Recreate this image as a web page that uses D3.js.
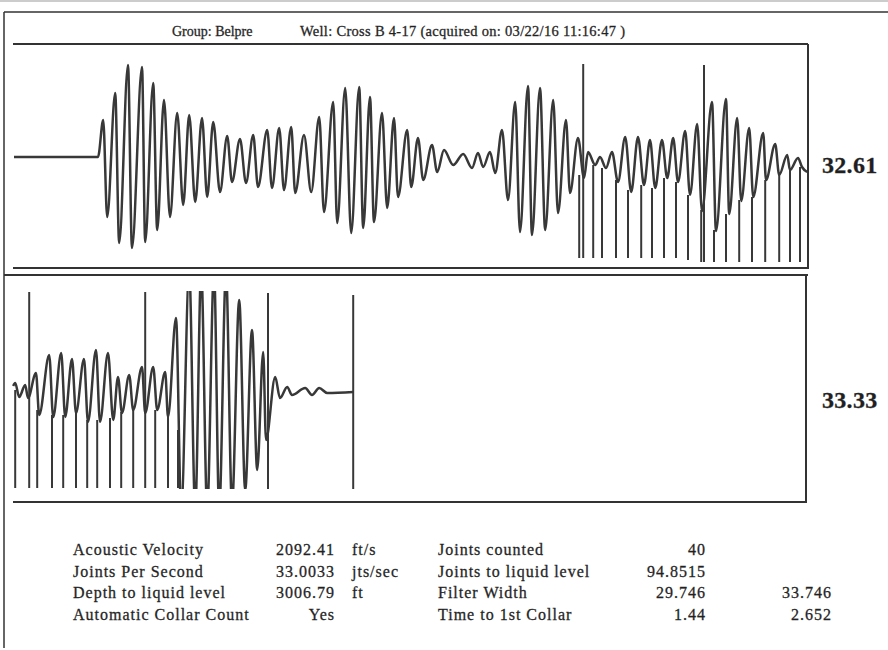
<!DOCTYPE html>
<html>
<head>
<meta charset="utf-8">
<script src="https://cdn.jsdelivr.net/npm/d3@7"></script>
<style>
  body { margin: 0; background: #fff; }
  svg { display: block; }
  .serif { font-family: "Liberation Serif", "DejaVu Serif", serif; fill: #1f1f1f; stroke: #2a2a2a; stroke-width: 0.3px; }
</style>
</head>
<body>
<div id="chart"></div>
<script>
// header
var groupName = "Group: Belpre";
var wellTitle = "Well: Cross B 4-17 (acquired on: 03/22/16 11:16:47 )";

// joints per second shown right of each trace
var panelRates = ["32.61", "33.33"];

// time span of each panel (s)
var panel1Span = [0, 1.98];
var panel2Span = [1.98, 3.96];

// trace 1 : [time s, amplitude]  (turning points)
var trace1 = [
  [0, 0], [0.21, 0], [0.223, 0.37], [0.233, -0.60], [0.253, 0.64], [0.263, -0.86],
  [0.285, 0.92], [0.295, -0.91], [0.320, 0.90], [0.328, -0.85], [0.348, 0.74], [0.358, -0.73],
  [0.375, 0.57], [0.390, -0.60], [0.408, 0.44], [0.423, -0.48], [0.438, 0.42], [0.453, -0.45],
  [0.470, 0.39], [0.483, -0.40], [0.498, 0.35], [0.515, -0.35], [0.533, 0.21], [0.545, -0.25],
  [0.565, 0.18], [0.580, -0.26], [0.598, 0.22], [0.610, -0.30], [0.633, 0.27], [0.645, -0.31],
  [0.663, 0.29], [0.675, -0.33], [0.693, 0.30], [0.703, -0.36], [0.725, 0.22], [0.743, -0.35],
  [0.763, 0.40], [0.775, -0.55], [0.798, 0.55], [0.808, -0.66], [0.828, 0.69], [0.843, -0.76],
  [0.863, 0.70], [0.873, -0.71], [0.890, 0.60], [0.900, -0.65], [0.920, 0.44], [0.933, -0.51],
  [0.950, 0.39], [0.960, -0.40], [0.983, 0.27], [0.993, -0.30], [1.010, 0.19], [1.023, -0.23],
  [1.045, 0.12], [1.058, -0.15], [1.075, 0.07], [1.098, -0.08], [1.123, 0.03], [1.145, -0.11],
  [1.160, 0.04], [1.173, -0.10], [1.190, 0.05], [1.203, -0.16], [1.220, 0.27], [1.235, -0.43],
  [1.253, 0.55], [1.265, -0.75], [1.285, 0.71], [1.295, -0.78], [1.315, 0.69], [1.328, -0.73],
  [1.348, 0.57], [1.360, -0.56], [1.380, 0.37], [1.390, -0.36], [1.410, 0.19], [1.425, -0.21],
  [1.435, 0.05], [1.453, -0.08], [1.465, 0.00], [1.480, -0.11], [1.495, 0.05], [1.510, -0.25],
  [1.528, 0.20], [1.543, -0.35], [1.560, 0.20], [1.575, -0.28], [1.590, 0.17], [1.603, -0.31],
  [1.620, 0.17], [1.633, -0.21], [1.648, 0.19], [1.660, -0.25], [1.678, 0.26], [1.690, -0.38],
  [1.708, 0.33], [1.720, -0.54], [1.745, 0.55], [1.755, -0.74], [1.780, 0.58], [1.788, -0.57],
  [1.808, 0.39], [1.818, -0.44], [1.838, 0.29], [1.848, -0.40], [1.873, 0.24], [1.880, -0.23],
  [1.903, 0.13], [1.913, -0.18], [1.933, 0.02], [1.940, -0.13], [1.960, -0.01], [1.970, -0.10],
  [1.983, -0.15]
];

// collar spikes on trace 1 : [time s, top amp, bottom amp]
var spikes1 = [
  [1.413, -0.18, -1.01], [1.423, 0.93, -1.01], [1.448, -0.08, -1.01], [1.470, -0.11, -1.01],
  [1.505, -0.23, -1.01], [1.535, -0.33, -1.01], [1.568, -0.28, -1.01], [1.595, -0.31, -1.01],
  [1.625, -0.21, -1.01], [1.655, -0.25, -1.01], [1.685, -0.38, -1.03], [1.718, -0.53, -1.05],
  [1.725, 0.92, -1.05], [1.750, -0.73, -1.05], [1.780, -0.57, -1.05], [1.813, -0.43, -1.05],
  [1.845, -0.40, -1.05], [1.878, -0.23, -1.05], [1.913, -0.18, -1.05], [1.940, -0.13, -1.05],
  [1.965, -0.10, -1.05]
];

// trace 2 : [time s, amplitude]
var trace2 = [
  [1.978, 0.06], [1.983, 0.09], [1.993, -0.05], [2.008, 0.07], [2.015, -0.06], [2.035, 0.19],
  [2.043, -0.23], [2.068, 0.37], [2.078, -0.25], [2.098, 0.39], [2.108, -0.25], [2.125, 0.33],
  [2.135, -0.21], [2.155, 0.33], [2.165, -0.30], [2.185, 0.42], [2.195, -0.30], [2.215, 0.39],
  [2.228, -0.28], [2.240, 0.15], [2.250, -0.21], [2.268, 0.17], [2.278, -0.18], [2.300, 0.25],
  [2.308, -0.21], [2.328, 0.25], [2.338, -0.18], [2.358, 0.20], [2.365, -0.25], [2.385, 0.74],
  [2.398, -1.18], [2.418, 1.22], [2.433, -1.18], [2.448, 1.22], [2.463, -1.18], [2.480, 1.22],
  [2.493, -1.18], [2.510, 1.20], [2.525, -1.13], [2.543, 0.92], [2.558, -0.98], [2.575, 0.62],
  [2.588, -0.78], [2.603, 0.40], [2.610, -0.48], [2.633, 0.15], [2.645, -0.06], [2.663, 0.05],
  [2.675, -0.03], [2.708, 0.04], [2.725, -0.03], [2.743, 0.04], [2.763, -0.01], [2.828, 0.00]
];

// collar spikes / liquid level kick on trace 2
var spikes2 = [
  [1.983, 0.02, -0.96], [2.018, 1.00, -0.96], [2.038, -0.18, -0.96], [2.075, -0.23, -0.96],
  [2.103, -0.23, -0.96], [2.135, -0.21, -0.96], [2.163, -0.28, -0.96], [2.188, -0.28, -0.96],
  [2.220, -0.26, -0.96], [2.248, -0.20, -0.96], [2.278, -0.18, -0.96], [2.308, 1.00, -0.96],
  [2.333, -0.18, -0.96], [2.365, -0.23, -0.96], [2.390, -0.38, -0.96], [2.615, 0.99, -0.98],
  [2.828, 0.97, -0.98]
];

// results table
var leftLabels = ["Acoustic Velocity", "Joints Per Second", "Depth to liquid level", "Automatic Collar Count"];
var leftValues = ["2092.41", "33.0033", "3006.79", "Yes"];
var leftUnits = ["ft/s", "jts/sec", "ft", ""];
var rightLabels = ["Joints counted", "Joints to liquid level", "Filter Width", "Time to 1st Collar"];
var rightValues = ["40", "94.8515", "29.746", "1.44"];
var extraValues = ["", "", "33.746", "2.652"];


var svgWidth = 888;
var svgHeight = 650;
var ink = "#333";

var svg = d3.select("#chart")
  .append("svg")
  .attr("width", svgWidth)
  .attr("height", svgHeight);

function hline(x1, x2, y, w, c) {
  svg.append("line").attr("x1", x1).attr("x2", x2).attr("y1", y).attr("y2", y)
    .attr("stroke", c || ink).attr("stroke-width", w);
}
function vline(x, y1, y2, w) {
  svg.append("line").attr("x1", x).attr("x2", x).attr("y1", y1).attr("y2", y2)
    .attr("stroke", ink).attr("stroke-width", w);
}

// page frame
hline(0, 888, 1, 1, "#999");
hline(4, 888, 12, 1.5);
vline(4, 12, 648, 1.5);

// header text
svg.append("text").attr("class", "serif")
  .attr("x", 172).attr("y", 36)
  .style("font-size", "14px")
  .text(groupName);
svg.append("text").attr("class", "serif")
  .attr("x", 300).attr("y", 36)
  .attr("textLength", 325)
  .style("font-size", "14.5px")
  .text(wellTitle);

// panels
var panels = [
  { top: 44, bottom: 268, left: 14, right: 806, span: panel1Span, amp: [-1.11, 1.13],
    clip: [62, 264], trace: trace1, spikes: spikes1, rate: panelRates[0], rateY: 173 },
  { top: 275, bottom: 502, left: 14, right: 806, span: panel2Span, amp: [-1.10, 1.17],
    clip: [291, 489], trace: trace2, spikes: spikes2, rate: panelRates[1], rateY: 408 }
];

// borders
hline(13, 808, 44, 2);
vline(808, 44, 269, 2);
hline(13, 808, 268, 2);
hline(4, 808, 275, 2);
vline(806, 275, 503, 2);
hline(13, 806, 502, 2);

panels.forEach(function (p, i) {
  var xScale = d3.scaleLinear()
    .domain(p.span)
    .range([p.left, p.right]);

  var yScale = d3.scaleLinear()
    .domain(p.amp)
    .range([p.bottom, p.top]);

  svg.append("clipPath")
    .attr("id", "clip" + i)
    .append("rect")
    .attr("x", 0)
    .attr("y", p.clip[0])
    .attr("width", svgWidth)
    .attr("height", p.clip[1] - p.clip[0]);

  var g = svg.append("g").attr("clip-path", "url(#clip" + i + ")");

  var line = d3.line()
    .x(d => xScale(d[0]))
    .y(d => yScale(d[1]))
    .curve(d3.curveMonotoneX);

  g.append("path")
    .datum(p.trace)
    .attr("d", line)
    .attr("fill", "none")
    .attr("stroke", "#383838")
    .attr("stroke-width", 2.5)
    .attr("stroke-linejoin", "round");

  g.selectAll(".spike")
    .data(p.spikes)
    .enter()
    .append("line")
    .attr("x1", d => xScale(d[0]))
    .attr("x2", d => xScale(d[0]))
    .attr("y1", d => yScale(d[1]))
    .attr("y2", d => yScale(d[2]))
    .attr("stroke", "#383838")
    .attr("stroke-width", 2);

  svg.append("text").attr("class", "serif")
    .attr("x", 822).attr("y", p.rateY)
    .style("font-size", "24px")
    .style("font-weight", "bold")
    .style("letter-spacing", "0.3px")
    .text(p.rate);
});

// results table
var rowY = d3.scalePoint()
  .domain(d3.range(leftLabels.length))
  .range([555, 620]);

var table = svg.append("g")
  .attr("class", "serif")
  .style("font-size", "16px")
  .style("letter-spacing", "1px");

function column(values, x, anchor) {
  table.selectAll(null)
    .data(values)
    .enter()
    .append("text")
    .attr("x", x)
    .attr("y", (d, i) => rowY(i))
    .attr("text-anchor", anchor)
    .text(d => d);
}

column(leftLabels, 73, "start");
column(leftValues, 335, "end");
column(leftUnits, 352, "start");
column(rightLabels, 438, "start");
column(rightValues, 706, "end");
column(extraValues, 832, "end");
</script>
</body>
</html>
